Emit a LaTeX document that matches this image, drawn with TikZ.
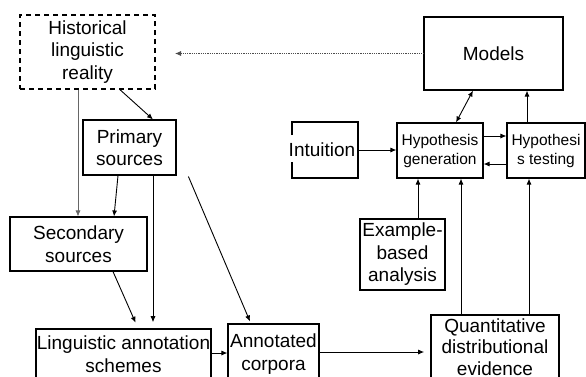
\documentclass[tikz,border=0pt]{standalone}
\usepackage{fontspec}
\setmainfont{Liberation Sans}
\usetikzlibrary{arrows.meta,calc}
\begin{document}
\begin{tikzpicture}[x=1pt,y=-1pt,
  box/.style={draw,line width=1.1pt,inner sep=0pt,align=center,font=\fontsize{19}{22.5}\selectfont},
  thick box/.style={box,line width=1.6pt},
  small box/.style={box,font=\fontsize{15.5}{19}\selectfont},
  arr/.style={line width=0.9pt,-{Latex[length=6pt,width=5pt]}},
]
\clip (0,0) rectangle (586,376);
\fill[white] (0,0) rectangle (586,376);

\node[box,dashed,dash pattern=on 5pt off 4pt,line width=1.4pt,minimum width=135pt,minimum height=74pt] (hist) at (87.5,52) {Historical\\linguistic\\reality};
\node[box,minimum width=93pt,minimum height=55pt] (prim) at (129.5,147.5) {Primary\\sources};
\node[box,minimum width=137pt,minimum height=54pt] (sec) at (78.5,244) {Secondary\\sources};
\node[box,minimum width=139pt,minimum height=73pt] (models) at (493.5,53.5) {Models};
\node[inner sep=0pt,font=\fontsize{19}{22.5}\selectfont,minimum width=66pt,minimum height=56pt] (intu) at (325,150) {\hspace*{-6pt}Intuition};
\draw[line width=1.1pt] (292,135) -- (292,122) -- (358,122) -- (358,178) -- (292,178) -- (292,162);
\node[small box,minimum width=86pt,minimum height=55pt] (hgen) at (440,150.5) {Hypothesis\\generation};
\node[small box,minimum width=78pt,minimum height=55pt] (htest) at (546,150.5) {Hypothesi\\s testing};
\node[thick box,minimum width=85pt,minimum height=71pt] (ex) at (402.5,254.5) {Example-\\based\\analysis};
\node[thick box,minimum width=175pt,minimum height=50pt] (ling) at (123.5,354) {Linguistic annotation\\schemes};
\node[box,minimum width=91pt,minimum height=60pt] (annot) at (273.5,354) {Annotated\\corpora};
\node[thick box,font=\fontsize{19}{21.5}\selectfont,minimum width=128pt,minimum height=64pt] (quant) at (495,347) {Quantitative\\distributional\\evidence};

\coordinate (dotend) at (175,53.5);
\draw[line width=0.8pt,densely dotted,draw=black!70,-{Latex[length=6pt,width=5pt]}] (models.west) -- (dotend);

\draw[arr] ([xshift=32.5pt]hist.south) -- ([xshift=23.5pt]prim.north);
\draw[line width=0.7pt,draw=black!60,-{Latex[length=6pt,width=5pt]}] ([xshift=-9.5pt]hist.south) -- ([xshift=-0.5pt]sec.north);
\draw[arr] ([xshift=-11.5pt]prim.south) -- ([xshift=35.5pt]sec.north);
\draw[line width=0.7pt,-{Latex[length=6pt,width=5pt]},shorten >=6pt] ([xshift=23.5pt]prim.south) -- ([xshift=29.5pt]ling.north);
\draw[arr,shorten >=6pt] ([xshift=34.5pt]sec.south) -- ([xshift=14.5pt]ling.north);
\draw[arr,shorten <=1pt] ([xshift=58.5pt]prim.south) -- ([xshift=-23.5pt,yshift=2pt]annot.north);
\draw[arr] ([yshift=1pt]ling.east) -- ([yshift=1pt]annot.west);
\draw[arr,shorten >=6pt] ([yshift=2pt]annot.east) -- ([yshift=2pt]annot.east -| quant.west);
\draw[arr] ([xshift=-34pt]quant.north) -- ([xshift=-34pt]quant.north |- hgen.south);
\draw[arr] ([xshift=34pt]quant.north) -- ([xshift=34pt]quant.north |- htest.south);
\draw[arr] ([xshift=15.5pt]ex.north) -- ([xshift=15.5pt]ex.north |- hgen.south);
\draw[arr] (intu.east) -- (intu.east -| hgen.west);
\draw[arr] ([yshift=14.5pt]hgen.east) -- ([yshift=14.5pt]htest.west);
\draw[arr] ([yshift=-13.5pt]htest.west) -- ([yshift=-13.5pt]hgen.east);
\draw[arr] ([xshift=-19pt]htest.north) -- ([xshift=-19pt]htest.north |- models.south);
\draw[line width=0.9pt,{Latex[length=6pt,width=5pt]}-{Latex[length=6pt,width=5pt]}] ([xshift=-20.5pt]models.south) -- ([xshift=16pt]hgen.north);
\end{tikzpicture}
\end{document}
